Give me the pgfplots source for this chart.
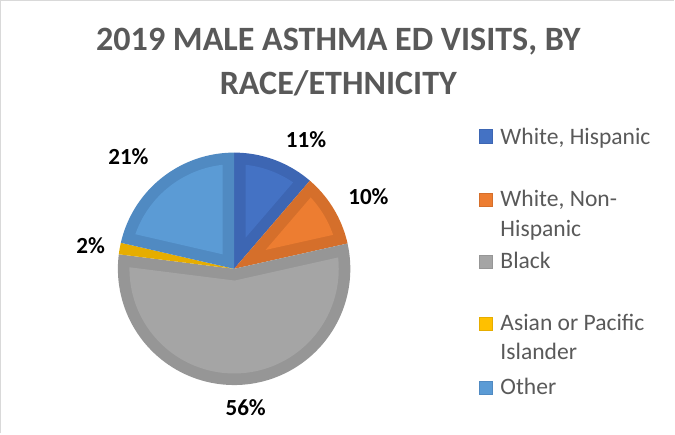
\documentclass[border=0pt]{standalone}
\usepackage{pgfplots}
\pgfplotsset{compat=1.18}
\usepackage{fontspec}
\setmainfont{Carlito}
\definecolor{bluef}{HTML}{4472C4}\definecolor{blued}{HTML}{3D66B3}
\definecolor{orangef}{HTML}{ED7D31}\definecolor{oranged}{HTML}{D56F2B}
\definecolor{grayf}{HTML}{A5A5A5}\definecolor{grayd}{HTML}{969696}
\definecolor{yellowf}{HTML}{FFC000}\definecolor{yellowd}{HTML}{E6AD00}
\definecolor{otherf}{HTML}{5B9BD5}\definecolor{otherd}{HTML}{508AC2}
\definecolor{txt}{HTML}{595959}
\definecolor{framec}{HTML}{D9D9D9}
% shares of the pie (percent)
\def\pA{11.3}% White, Hispanic
\def\pB{10.2}% White, Non-Hispanic
\def\pC{55.5}% Black
\def\pD{1.6}%  Asian or Pacific Islander
\def\pE{21.4}% Other
\def\cx{237.5}\def\cy{272.5}\def\R{115.5}\def\W{11.5}
\pgfmathsetmacro\Ri{\R-\W}
\pgfmathsetmacro\aA{3.6*\pA}
\pgfmathsetmacro\aB{\aA+3.6*\pB}
\pgfmathsetmacro\aC{\aB+3.6*\pC}
\pgfmathsetmacro\aD{\aC+3.6*\pD}
\newcommand{\outerslice}[3]{%
  \pgfmathsetmacro\sa{#1}\pgfmathsetmacro\sb{#2}%
  \edef\doit{\noexpand\addplot[fill=#3, draw=none, domain=\sa:\sb, samples=90]
    ({\cx+\R*sin(x)}, {\cy-\R*cos(x)}) -- (axis cs:\cx,\cy) -- cycle;}%
  \doit}
\newcommand{\innerslice}[3]{%
  \pgfmathsetmacro\sa{#1}\pgfmathsetmacro\sb{#2}%
  \pgfmathsetmacro\sHalf{(\sb-\sa)/2}%
  \pgfmathsetmacro\sMid{(\sa+\sb)/2}%
  \pgfmathsetmacro\dv{\W/sin(\sHalf)}%
  \pgfmathsetmacro\vx{\cx+\dv*sin(\sMid)}%
  \pgfmathsetmacro\vy{\cy-\dv*cos(\sMid)}%
  \pgfmathsetmacro\ph{asin(\W/\Ri)}%
  \pgfmathsetmacro\ia{\sa+\ph}\pgfmathsetmacro\ib{\sb-\ph}%
  \edef\doit{\noexpand\addplot[fill=#3, draw=none, domain=\ia:\ib, samples=90]
    ({\cx+\Ri*sin(x)}, {\cy-\Ri*cos(x)}) -- (axis cs:\vx,\vy) -- cycle;}%
  \doit}
\begin{document}
\begin{tikzpicture}
\begin{axis}[width=675bp, height=436bp, scale only axis,
  xmin=0, xmax=675, ymin=0, ymax=436, y dir=reverse,
  hide axis, clip=false]
\draw[framec, line width=1.3bp] (axis cs:5.5,436) -- (axis cs:5.5,6) -- (axis cs:675,6);
% slices
\outerslice{0}{\aA}{blued}
\innerslice{0}{\aA}{bluef}
\outerslice{\aA}{\aB}{oranged}
\innerslice{\aA}{\aB}{orangef}
\outerslice{\aB}{\aC}{grayd}
\innerslice{\aB}{\aC}{grayf}
\outerslice{\aC}{\aD}{yellowd}
\outerslice{\aD}{360}{otherd}
\innerslice{\aD}{360}{otherf}
% title
\node[anchor=base, font=\bfseries\fontsize{34}{41}\selectfont, text=txt, inner sep=0]
  at (axis cs:341,56) {2019 MALE ASTHMA ED VISITS, BY};
\node[anchor=base, font=\bfseries\fontsize{34}{41}\selectfont, text=txt, inner sep=0]
  at (axis cs:341,99) {RACE/ETHNICITY};
% data labels
\node[anchor=base, font=\bfseries\fontsize{23}{28}\selectfont, inner sep=0] at (axis cs:309,152) {11\%};
\node[anchor=base, font=\bfseries\fontsize{23}{28}\selectfont, inner sep=0] at (axis cs:371,208.3) {10\%};
\node[anchor=base, font=\bfseries\fontsize{23}{28}\selectfont, inner sep=0] at (axis cs:95,257) {2\%};
\node[anchor=base, font=\bfseries\fontsize{23}{28}\selectfont, inner sep=0] at (axis cs:132.5,169.3) {21\%};
\node[anchor=base, font=\bfseries\fontsize{23}{28}\selectfont, inner sep=0] at (axis cs:249,418.3) {56\%};
% legend
\filldraw[fill=bluef, draw=blued, line width=1bp] (axis cs:481.5,134.5) rectangle (axis cs:494.5,147.5);
\node[anchor=base west, font=\fontsize{23.5}{28.7}\selectfont, text=txt, inner sep=0] at (axis cs:502,149) {White, Hispanic};
\filldraw[fill=orangef, draw=oranged, line width=1bp] (axis cs:481.5,197.5) rectangle (axis cs:494.5,210.5);
\node[anchor=base west, font=\fontsize{23.5}{28.7}\selectfont, text=txt, inner sep=0] at (axis cs:502,211) {White, Non-};
\node[anchor=base west, font=\fontsize{23.5}{28.7}\selectfont, text=txt, inner sep=0] at (axis cs:502,240) {Hispanic};
\filldraw[fill=grayf, draw=grayd, line width=1bp] (axis cs:481.5,259.5) rectangle (axis cs:494.5,272.5);
\node[anchor=base west, font=\fontsize{23.5}{28.7}\selectfont, text=txt, inner sep=0] at (axis cs:502,272) {Black};
\filldraw[fill=yellowf, draw=yellowd, line width=1bp] (axis cs:481.5,320.5) rectangle (axis cs:494.5,333.5);
\node[anchor=base west, font=\fontsize{23.5}{28.7}\selectfont, text=txt, inner sep=0] at (axis cs:502,333.5) {Asian or Pacific};
\node[anchor=base west, font=\fontsize{23.5}{28.7}\selectfont, text=txt, inner sep=0] at (axis cs:502,362.5) {Islander};
\filldraw[fill=otherf, draw=otherd, line width=1bp] (axis cs:481.5,384.5) rectangle (axis cs:494.5,397.5);
\node[anchor=base west, font=\fontsize{23.5}{28.7}\selectfont, text=txt, inner sep=0] at (axis cs:502,397.5) {Other};
\end{axis}
\end{tikzpicture}
\end{document}
